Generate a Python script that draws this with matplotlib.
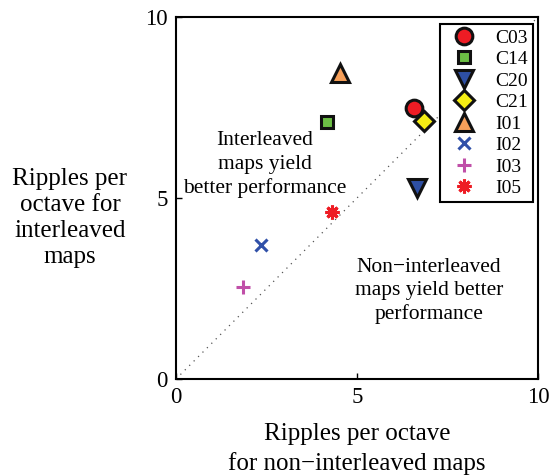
import matplotlib
matplotlib.use("Agg")
import matplotlib.pyplot as plt

plt.rcParams['font.family'] = ['Liberation Serif', 'DejaVu Serif']

labels = ["C03", "C14", "C20", "C21", "I01", "I02", "I03", "I05"]
x_vals = [6.57, 4.17, 6.66, 6.85, 4.53, 2.35, 1.85, 4.31]
y_vals = [7.49, 7.10, 5.28, 7.13, 8.45, 3.70, 2.54, 4.61]
markers = ["o", "s", "v", "D", "^", "x", "+", (8, 2, 0)]
faces = ["#ee1c24", "#6cbf45", "#2e4fa3", "#f5ee14", "#f7a05a", "#3050a8", "#c04fa8", "#ee1c24"]
sizes = [12, 8.5, 13, 10, 13, 8, 10, 10]

fig = plt.figure(figsize=(5.51, 4.76), dpi=100)
ax = fig.add_axes([176/551, 1 - 379/476, 362/551, 362/476])

ax.plot([0, 10], [0, 10], linestyle=(0, (1, 4)), color='#555555', linewidth=0.9, zorder=1)

for lab, x, y, m, fc, s in zip(labels, x_vals, y_vals, markers, faces, sizes):
    if m in ("x", "+") or isinstance(m, tuple):
        ax.plot([x], [y], linestyle='none', marker=m, color=fc, markersize=s,
                markeredgewidth=2.2, label=lab, zorder=3)
    else:
        ax.plot([x], [y], linestyle='none', marker=m, markerfacecolor=fc,
                markeredgecolor='#111111', markersize=s, markeredgewidth=2.2,
                label=lab, zorder=3)

ax.set_xlim(0, 10)
ax.set_ylim(0, 10)
ax.set_xticks([0, 5, 10])
ax.set_yticks([0, 5, 10])
ax.tick_params(direction='in', length=4, width=1, labelsize=16.5, pad=6)
for sp in ax.spines.values():
    sp.set_linewidth(1.5)

ax.text(2.45, 5.92, "Interleaved\nmaps yield\nbetter performance", ha='center', va='center',
        fontsize=15.5, linespacing=1.3, zorder=2)
ax.text(6.99, 2.43, "Non\u2212interleaved\nmaps yield better\nperformance", ha='center', va='center',
        fontsize=15.5, linespacing=1.3, zorder=2)

leg = ax.legend(loc='upper right', bbox_to_anchor=(0.985, 0.98), fontsize=14,
                frameon=True, fancybox=False, edgecolor='black', framealpha=1,
                handlelength=2.0, handletextpad=0.6, labelspacing=0.2,
                borderpad=0.25, borderaxespad=0.0)
leg.get_frame().set_linewidth(1.5)

fig.text(70/551, 1 - 218/476, "Ripples per\noctave for\ninterleaved\nmaps", ha='center', va='center',
         fontsize=18, linespacing=1.25)
fig.text(357/551, 1 - 449/476, "Ripples per octave\nfor non\u2212interleaved maps", ha='center', va='center',
         fontsize=18, linespacing=1.38)

fig.savefig("out.png", dpi=100)
